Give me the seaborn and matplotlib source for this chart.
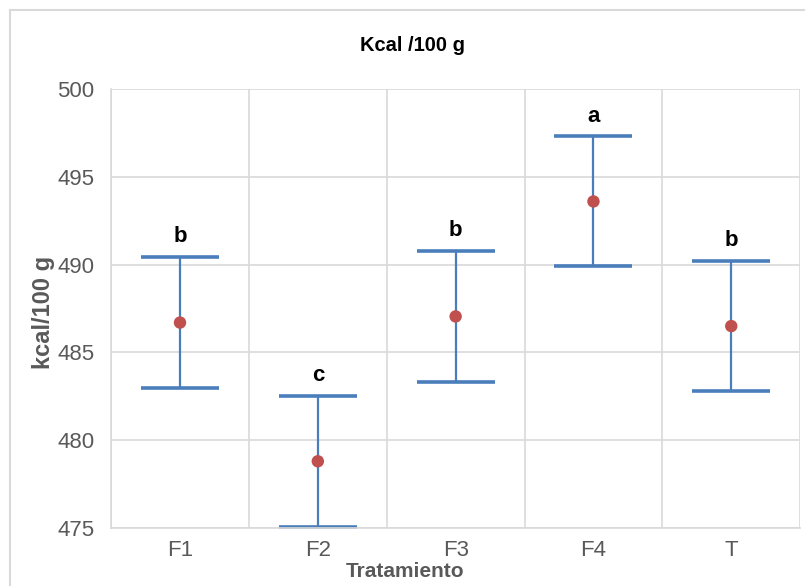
import matplotlib
matplotlib.use("Agg")
import matplotlib.pyplot as plt
import seaborn as sns
import pandas as pd
from matplotlib.lines import Line2D

tratamientos = ["F1", "F2", "F3", "F4", "T"]
medias = [486.7, 478.8, 487.05, 493.6, 486.5]
error = [3.73, 3.72, 3.75, 3.7, 3.72]
letras = ["b", "c", "b", "a", "b"]

df = pd.DataFrame({"Tratamiento": tratamientos, "kcal": medias})

sns.set_style("white")
plt.rcParams['font.family'] = ['Liberation Sans', 'DejaVu Sans']

fig = plt.figure(figsize=(8.05, 5.86), dpi=100)
ax = fig.add_axes([0.138, 0.099, 0.856, 0.749])

ax.errorbar(range(len(tratamientos)), medias, yerr=error, fmt="none",
            ecolor="#4a7ebb", elinewidth=1.6, capsize=28, capthick=2.6, zorder=2)
sns.scatterplot(data=df, x="Tratamiento", y="kcal", color="#c0504d", s=80,
                edgecolor="none", zorder=3, ax=ax)

for i, (m, e, l) in enumerate(zip(medias, error, letras)):
    ax.text(i, m + e + 0.55, l, ha="center", va="bottom", fontsize=16,
            fontweight="bold", color="black")

ax.set_ylim(475, 500)
ax.set_xlim(-0.5, 4.5)
ax.set_yticks(range(475, 501, 5))
ax.set_xticks(range(len(tratamientos)))
ax.set_xticklabels(tratamientos)
ax.set_xticks([x - 0.5 for x in range(len(tratamientos) + 1)], minor=True)
ax.grid(axis="y", which="major", color="#d9d9d9", linewidth=1.2)
ax.grid(axis="x", which="minor", color="#d9d9d9", linewidth=1.2)
ax.set_axisbelow(True)
ax.tick_params(axis="both", which="both", length=0, labelsize=16, colors="#595959")
ax.tick_params(axis="x", pad=9)
ax.tick_params(axis="y", pad=12)
for s in ax.spines.values():
    s.set_color("#d9d9d9")
    s.set_linewidth(1.2)
ax.spines["top"].set_visible(False)
ax.spines["right"].set_visible(False)

ax.set_xlabel("Tratamiento", fontsize=15, fontweight="bold", color="#595959")
ax.xaxis.set_label_coords(0.427, -0.078)
ax.set_ylabel("kcal/100 g", fontsize=17, fontweight="bold", color="#595959")
ax.yaxis.set_label_coords(-0.082, 0.49)
fig.text(0.512, 0.923, "Kcal /100 g", ha="center", va="center", fontsize=14.5,
         fontweight="bold", color="black")

# chart border
fig.add_artist(Line2D([10/805, 10/805], [0, 1 - 10/586], color="#d9d9d9", linewidth=1.5))
fig.add_artist(Line2D([10/805, 1], [1 - 10/586, 1 - 10/586], color="#d9d9d9", linewidth=1.5))

fig.savefig("out.png", dpi=100)
